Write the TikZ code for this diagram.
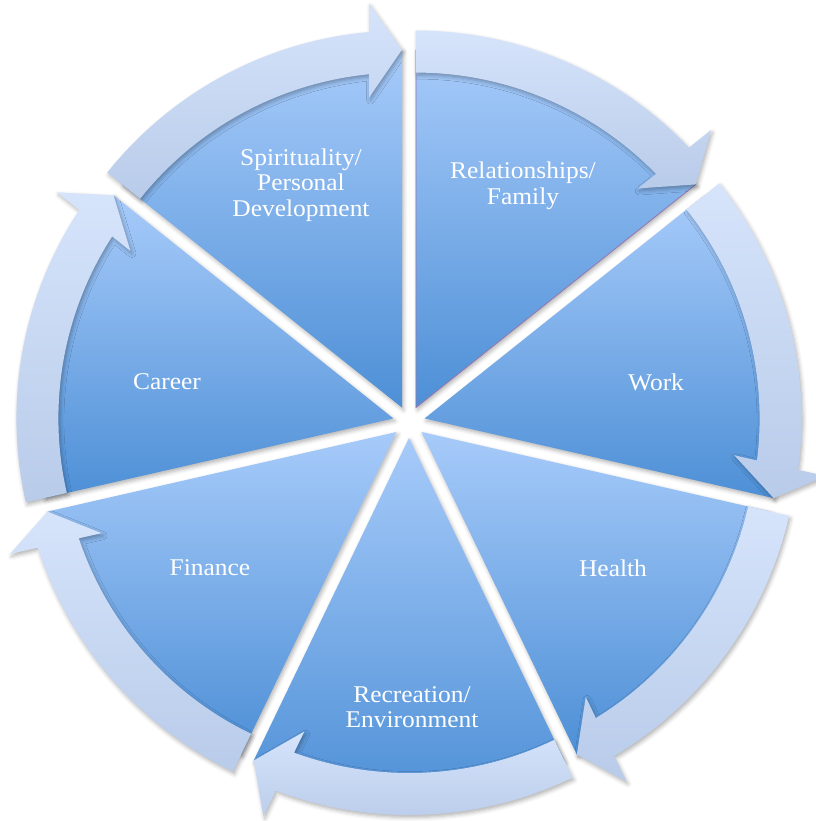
\documentclass[tikz,border=0pt]{standalone}
\usepackage{fontspec}
\setmainfont[FakeStretch=1.06]{Liberation Serif}
\usetikzlibrary{shadows.blur}

\definecolor{sliceTop}{RGB}{167,203,250}
\definecolor{sliceBot}{RGB}{77,143,214}
\definecolor{ringTop}{RGB}{214,228,251}
\definecolor{ringBot}{RGB}{184,203,233}
\definecolor{edgeLine}{RGB}{150,118,178}

\begin{document}
\begin{tikzpicture}[x=1pt,y=1pt,
  softshadow/.style={blur shadow={shadow xshift=1.5pt, shadow yshift=-2.5pt,
      shadow blur radius=4pt, shadow opacity=30}},
  slice/.style={top color=sliceTop, bottom color=sliceBot, softshadow},
  ringarrow/.style={top color=ringTop, bottom color=ringBot, softshadow},
  seglabel/.style={text=white, font=\fontsize{24}{25.5}\selectfont, align=center}]

\useasboundingbox (-409,-399) rectangle (406,422);

% seven exploded pie segments, each pushed 16pt out along its bisector
\foreach \m in {64.2857,12.8571,-38.5714,-90,-141.4286,-192.8571,-244.2857} {
  \begin{scope}[shift={(\m:16pt)}]
    \pgfmathsetmacro\aS{\m+25.7143}
    \pgfmathsetmacro\aE{\m-25.7143}
    \path[slice] (0,0) -- (\aS:358pt)
      arc[start angle=\aS, end angle=\aE, radius=358pt] -- cycle;
  \end{scope}
}

% thin outline on two edges of the first segment
\begin{scope}[shift={(64.2857:16pt)}]
  \draw[edgeLine, line width=0.8pt] (90:358pt) -- (0,0) -- (38.5714:358pt);
\end{scope}

% curved arrows, running clockwise round the outside of each segment
\foreach \m in {64.2857,12.8571,-38.5714,-90,-141.4286,-192.8571,-244.2857} {
  \begin{scope}[shift={(\m:16pt)}]
    \pgfmathsetmacro\aS{\m+25.7143}
    \pgfmathsetmacro\aE{\m-25.7143}
    \path[ringarrow] (\aS:377pt)
      arc[start angle=\aS, end angle={\aE+5.02}, radius=377pt]
      -- ({\aE+4.67}:405.35pt)
      -- (\aE:358pt)
      -- ({\aE+6.08}:311.75pt)
      -- ({\aE+5.65}:335pt)
      arc[start angle={\aE+5.65}, end angle=\aS, radius=335pt]
      -- cycle;
  \end{scope}
}

% segment labels
\node[seglabel] (spi) at (-108,237) {Spirituality/\\Personal\\Development};
\node[seglabel] (rel) at (114,236) {Relationships/\\Family};
\node[seglabel] (work) at (247,40) {Work};
\node[seglabel] (health) at (204,-146) {Health};
\node[seglabel] (rec) at (3,-285) {Recreation/\\Environment};
\node[seglabel] (fin) at (-199,-146) {Finance};
\node[seglabel] (car) at (-242,40) {Career};

\end{tikzpicture}
\end{document}
